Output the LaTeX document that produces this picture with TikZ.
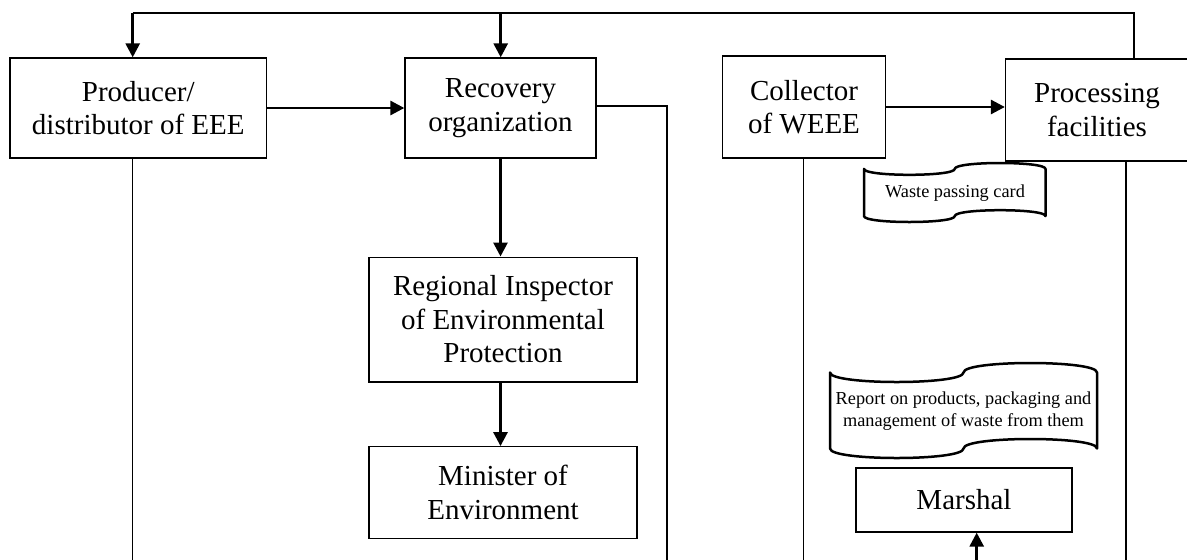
\documentclass[tikz,border=0pt]{standalone}
\usepackage{fontspec}
\setmainfont{Liberation Serif}
\usetikzlibrary{arrows.meta}
\begin{document}
\begin{tikzpicture}[x=1pt,y=-1pt,
  box/.style={draw=black,line width=1.3pt,align=center,inner sep=0pt,font=\fontsize{29}{33.5}\selectfont},
  arr/.style={line width=2.8pt,-{Triangle[length=14pt,width=14pt]}},
  thinline/.style={line width=1.3pt},
  tape/.style={draw=black,line width=2.5pt,line join=round},
  small/.style={align=center,inner sep=0pt,font=\fontsize{18.3}{21.5}\selectfont}]
\clip (0,0) rectangle (1187,560);
\useasboundingbox (0,0) rectangle (1187,560);
% boxes
\node[box,minimum width=256.7pt,minimum height=100pt] (prod) at (138.3,108) {Producer/\\distributor of EEE};
\node[box,minimum width=191pt,minimum height=100pt] (rec) at (500.5,108) {Recovery\\organization};
\node[box,minimum width=163.3pt,minimum height=102pt] (coll) at (804,107) {Collector\\of WEEE};
\node[box,minimum width=183pt,minimum height=102pt] (proc) at (1097,110) {Processing\\facilities};
\node[box,minimum width=268pt,minimum height=124.7pt] (reg) at (503,319.5) {Regional Inspector\\of Environmental\\Protection};
\node[box,minimum width=268pt,minimum height=91.5pt] (min) at (503,492.5) {Minister of\\Environment};
\node[box,minimum width=216pt,minimum height=64pt] (mar) at (964,500) {Marshal};
% punched tape documents
\draw[tape] (864,168.9) .. controls (864,176.77) and (954.75,176.77) .. (954.75,168.9)
  .. controls (954.75,161.03) and (1045.5,161.03) .. (1045.5,168.9) -- (1045.5,216.1)
  .. controls (1045.5,208.23) and (954.75,208.23) .. (954.75,216.1)
  .. controls (954.75,223.97) and (864,223.97) .. (864,216.1) -- cycle;
\node[small] (card) at (955,193) {Waste passing card};
\draw[tape] (830,372.5) .. controls (830,385.17) and (963.5,385.17) .. (963.5,372.5)
  .. controls (963.5,359.83) and (1097,359.83) .. (1097,372.5) -- (1097,448.5)
  .. controls (1097,435.83) and (963.5,435.83) .. (963.5,448.5)
  .. controls (963.5,461.17) and (830,461.17) .. (830,448.5) -- cycle;
\node[small] (rep) at (963.5,411) {Report on products, packaging and\\management of waste from them};
% coordinates
\coordinate (tl) at (132.7,13);
\coordinate (tm) at (500.7,13);
\coordinate (tr) at (1134,13);
\coordinate (rr) at (667,106);
\coordinate (rb) at (667,560);
\coordinate (pb) at (132.7,560);
\coordinate (cb) at (803.3,560);
\coordinate (fb) at (1126,560);
\coordinate (mb) at (976.7,560);
% connectors
\draw[thinline] (tl) -- (tr) -- (tr |- proc.north);
\draw[arr] (tl) -- (tl |- prod.north);
\draw[arr] (tm) -- (tm |- rec.north);
\draw[arr] (prod.east) -- (rec.west);
\draw[arr] (coll.east) -- (coll.east -| proc.west);
\draw[thinline] (rec.east |- rr) -- (rr) -- (rb);
\draw[arr] (rec.south) -- (rec.south |- reg.north);
\draw[arr] (rec.south |- reg.south) -- (rec.south |- min.north);
\draw[thinline] (prod.south -| pb) -- (pb);
\draw[thinline] (coll.south -| cb) -- (cb);
\draw[thinline] (proc.south -| fb) -- (fb);
\draw[arr] (mb) -- (mb |- mar.south);
\end{tikzpicture}
\end{document}
